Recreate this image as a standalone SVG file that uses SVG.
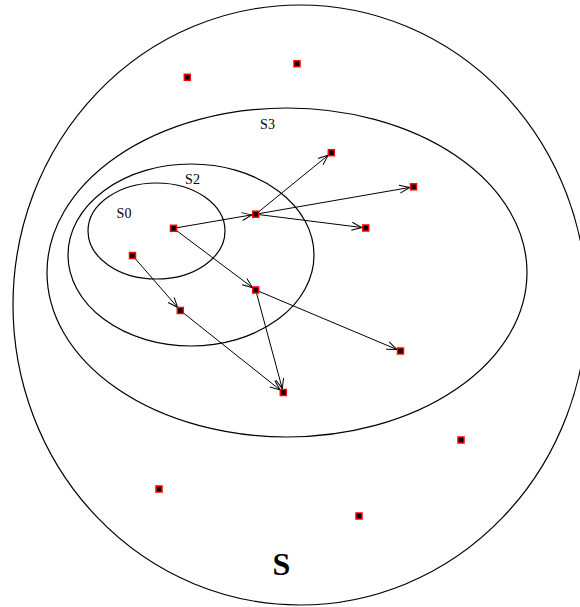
<svg xmlns="http://www.w3.org/2000/svg" width="580" height="607" viewBox="0 0 580 607">
<style>
.set{fill:none;stroke:#000;stroke-width:1.2}
.edge{fill:none;stroke:#000;stroke-width:1;marker-end:url(#arr)}
.node{fill:#000;stroke:#f00;stroke-width:1.5}
.lbl{font-family:"Liberation Serif","Times New Roman",serif;font-size:14px;fill:#000}
.big{font-family:"Liberation Serif","Times New Roman",serif;font-size:32px;font-weight:bold;fill:#000}
</style>
<defs>
<marker id="arr" markerUnits="userSpaceOnUse" markerWidth="20" markerHeight="12" refX="14" refY="4" orient="auto" overflow="visible">
<path d="M0,0 L10,4 L0,8" fill="none" stroke="#000" stroke-width="1"/>
</marker>
</defs>
<rect width="580" height="607" fill="#fff"/>
<g id="sets">
<ellipse id="setS" class="set" cx="300" cy="305" rx="287" ry="300"/>
<ellipse id="setS3" class="set" cx="287" cy="272.5" rx="240" ry="164.5"/>
<ellipse id="setS2" class="set" cx="191" cy="255" rx="123" ry="91"/>
<ellipse id="setS0" class="set" cx="156.5" cy="231" rx="68.5" ry="48"/>
</g>
<g id="labels">
<text class="lbl" x="124" y="218" text-anchor="middle">S0</text>
<text class="lbl" x="192.5" y="184" text-anchor="middle">S2</text>
<text class="lbl" x="267.5" y="129" text-anchor="middle">S3</text>
<text class="big" x="281.5" y="575" text-anchor="middle">S</text>
</g>
<g id="connectors">
<line class="edge" x1="173.5" y1="228.3" x2="255.7" y2="214.2"/>
<line class="edge" x1="173.5" y1="228.3" x2="255.7" y2="290"/>
<line class="edge" x1="132.5" y1="255.5" x2="180.3" y2="310.5"/>
<line class="edge" x1="255.7" y1="214.2" x2="331.3" y2="152.7"/>
<line class="edge" x1="255.7" y1="214.2" x2="413.5" y2="186.8"/>
<line class="edge" x1="255.7" y1="214.2" x2="365.7" y2="228"/>
<line class="edge" x1="255.7" y1="290" x2="400.5" y2="351"/>
<line class="edge" x1="255.7" y1="290" x2="283.3" y2="392.5"/>
<line class="edge" x1="180.3" y1="310.5" x2="283.3" y2="392.5"/>
</g>
<g id="n1"><rect class="node" x="184.3" y="74.3" width="6" height="6"/></g>
<g id="n2"><rect class="node" x="294" y="60.7" width="6" height="6"/></g>
<g id="n3"><rect class="node" x="328.3" y="149.7" width="6" height="6"/></g>
<g id="n4"><rect class="node" x="410.5" y="183.8" width="6" height="6"/></g>
<g id="n5"><rect class="node" x="252.7" y="211.2" width="6" height="6"/></g>
<g id="n6"><rect class="node" x="170.5" y="225.3" width="6" height="6"/></g>
<g id="n7"><rect class="node" x="362.7" y="225" width="6" height="6"/></g>
<g id="n8"><rect class="node" x="129.5" y="252.5" width="6" height="6"/></g>
<g id="n9"><rect class="node" x="252.7" y="287" width="6" height="6"/></g>
<g id="n10"><rect class="node" x="177.3" y="307.5" width="6" height="6"/></g>
<g id="n11"><rect class="node" x="397.5" y="348" width="6" height="6"/></g>
<g id="n12"><rect class="node" x="280.3" y="389.5" width="6" height="6"/></g>
<g id="n13"><rect class="node" x="458" y="437" width="6" height="6"/></g>
<g id="n14"><rect class="node" x="156" y="486" width="6" height="6"/></g>
<g id="n15"><rect class="node" x="356" y="513" width="6" height="6"/></g>
</svg>
